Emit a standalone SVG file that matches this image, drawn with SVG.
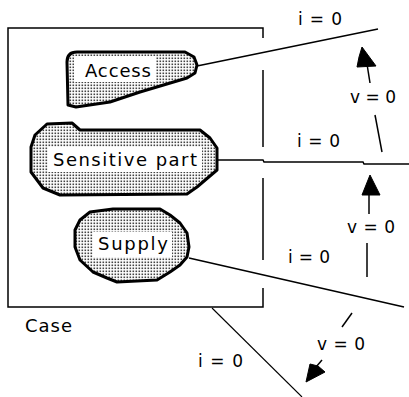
<svg xmlns="http://www.w3.org/2000/svg" width="409" height="397" viewBox="0 0 409 397">
  <defs>
    <pattern id="stip" width="3" height="3" patternUnits="userSpaceOnUse">
      <rect width="3" height="3" fill="#fff"/>
      <rect x="0.5" y="0.5" width="1.6" height="1.6" fill="#444"/>
    </pattern>
  </defs>
  <style>
    .blob { fill: url(#stip); stroke: #000; stroke-width: 3; stroke-linejoin: round; }
    .win { fill: #fff; stroke: none; }
    .t { font-family: "DejaVu Sans", "Liberation Sans", sans-serif; font-size: 18px; fill: #000; }
    .lbl { font-family: "DejaVu Sans", "Liberation Sans", sans-serif; font-size: 17px; fill: #000; }
    .ln { fill: none; stroke: #000; stroke-width: 1.5; }
    .thin { fill: none; stroke: #000; stroke-width: 1.1; }
    .head { fill: #000; stroke: #000; stroke-width: 1; stroke-linejoin: round; }
  </style>

  <g id="case">
    <polyline class="ln" points="263,38 263,28 8,28 8,307 263,307 263,288"/>
    <line class="ln" x1="263" y1="70" x2="263" y2="147"/>
    <line class="ln" x1="263" y1="178" x2="263" y2="260"/>
    <text class="t" x="25" y="332" textLength="47" lengthAdjust="spacing">Case</text>
  </g>

  <g id="access">
    <path class="blob" d="M67,62 Q67,52 77,52 L185,52 L194,57 L197,65 L195,73 L187,78 L140,92 L110,102 L76,107 L68,105 Z"/>
    <rect class="win" x="74" y="56" width="82" height="26"/>
    <text class="t" x="85" y="77" textLength="66" lengthAdjust="spacing">Access</text>
  </g>

  <g id="sensitive">
    <path class="blob" d="M35,135 L47,124 L72,123 L80,130 L200,130 L210,138 L217,148 L217,170 L197,187 L187,194 L60,195 L43,188 L31,172 L31,147 Z"/>
    <rect class="win" x="48" y="147" width="154" height="25"/>
    <text class="t" x="53" y="166" textLength="144" lengthAdjust="spacing">Sensitive part</text>
  </g>

  <g id="supply">
    <path class="blob" d="M80,220 L90,212 L113,209 L160,209 L170,215 L180,223 L187,233 L189,247 L187,257 L180,265 L170,272 L157,280 L117,282 L107,278 L93,272 L80,260 L75,247 L75,230 Z"/>
    <rect class="win" x="93" y="232" width="79" height="25"/>
    <text class="t" x="98" y="250" textLength="70" lengthAdjust="spacing">Supply</text>
  </g>

  <g id="connectors">
    <line class="ln" x1="197" y1="66" x2="378" y2="29"/>
    <polyline class="ln" points="218,160 263,160 264,162 363,162 364,164 409,164"/>
    <line class="ln" x1="189" y1="258" x2="404" y2="307"/>
    <line class="thin" x1="212" y1="308" x2="302" y2="397"/>

    <line class="ln" x1="367" y1="64" x2="370" y2="83"/>
    <line class="ln" x1="375" y1="115" x2="382" y2="152"/>
    <polygon class="head" points="362,47 376,66 357,67 359,57"/>

    <line class="ln" x1="369" y1="194" x2="369" y2="214"/>
    <line class="ln" x1="367" y1="243" x2="367" y2="277"/>
    <polygon class="head" points="370,175 380,195 362,195"/>

    <line class="ln" x1="352" y1="313" x2="342" y2="327"/>
    <line class="ln" x1="322" y1="360" x2="316" y2="367"/>
    <polygon class="head" points="306,382 310,364 318,366 325,372"/>
  </g>

  <g id="labels">
    <text class="lbl" x="298" y="25" textLength="44" lengthAdjust="spacing">i = 0</text>
    <text class="lbl" x="350" y="103" textLength="46" lengthAdjust="spacing">v = 0</text>
    <text class="lbl" x="297" y="147" textLength="43" lengthAdjust="spacing">i = 0</text>
    <text class="lbl" x="347" y="233" textLength="48" lengthAdjust="spacing">v = 0</text>
    <text class="lbl" x="288" y="263" textLength="42" lengthAdjust="spacing">i = 0</text>
    <text class="lbl" x="317" y="350" textLength="48" lengthAdjust="spacing">v = 0</text>
    <text class="lbl" x="198" y="367" textLength="45" lengthAdjust="spacing">i = 0</text>
  </g>
</svg>
